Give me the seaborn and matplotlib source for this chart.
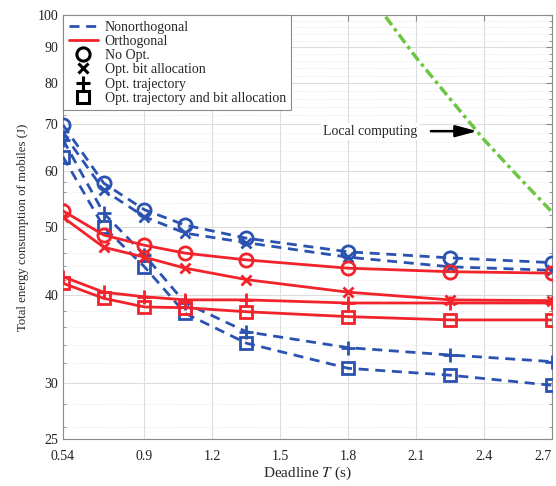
import numpy as np
import pandas as pd
import matplotlib
matplotlib.use("Agg")
import matplotlib.pyplot as plt
from matplotlib.lines import Line2D
from matplotlib.ticker import FixedLocator, FixedFormatter, NullFormatter
import seaborn as sns

# ---------------- data ----------------
deadline = [0.54, 0.72, 0.90, 1.08, 1.35, 1.80, 2.25, 2.70]

# Nonorthogonal (blue, dashed)
non_no_opt   = [69.8, 57.7, 52.9, 50.3, 48.2, 46.1, 45.2, 44.5]
non_bit      = [68.0, 56.4, 51.7, 49.0, 47.5, 45.3, 43.9, 43.4]
non_traj     = [66.5, 52.3, 45.6, 39.0, 35.5, 33.7, 32.9, 32.2]
non_traj_bit = [62.9, 50.0, 43.9, 37.7, 34.2, 31.5, 30.8, 29.8]

# Orthogonal (red, solid)
orth_no_opt   = [52.7, 48.7, 47.1, 45.9, 44.9, 43.7, 43.2, 43.0]
orth_bit      = [51.6, 46.8, 45.3, 43.7, 42.1, 40.4, 39.4, 39.3]
orth_traj     = [42.5, 40.4, 39.8, 39.4, 39.4, 39.0, 39.0, 39.0]
orth_traj_bit = [41.6, 39.6, 38.5, 38.4, 37.9, 37.3, 36.9, 36.9]

# Local computing (green)
local_T      = [1.90, 2.10, 2.25, 2.40, 2.55, 2.70]
local_energy = [106.0, 87.0, 76.0, 66.5, 59.0, 52.5]

x_ticks = [0.54, 0.9, 1.2, 1.5, 1.8, 2.1, 2.4, 2.7]
x_tick_labels = ["0.54", "0.9", "1.2", "1.5", "1.8", "2.1", "2.4", "2.7"]
y_ticks = [25, 30, 40, 50, 60, 70, 80, 90, 100]
y_tick_labels = ["25", "30", "40", "50", "60", "70", "80", "90", "100"]

legend_labels = ["Nonorthogonal", "Orthogonal", "No Opt.", "Opt. bit allocation",
                 "Opt. trajectory", "Opt. trajectory and bit allocation"]

# ---------------- style ----------------
sns.set_style("white")
plt.rcParams["font.family"] = ["Liberation Serif", "DejaVu Serif"]
plt.rcParams["mathtext.fontset"] = "stix"

BLUE = "#2A52B0"
RED = "#F2232A"
GREEN = "#6CC644"
DASH = (0, (3.6, 2.4))

fig = plt.figure(figsize=(5.56, 4.86), dpi=100)
ax = fig.add_axes([63 / 556, 1 - 439 / 486, (552 - 63) / 556, (439 - 15) / 486])

markers = ["o", "x", "+", "s"]
msizes = [9.5, 7, 10.5, 8.5]
non_series = [non_no_opt, non_bit, non_traj, non_traj_bit]
orth_series = [orth_no_opt, orth_bit, orth_traj, orth_traj_bit]

for vals, m, ms in zip(non_series, markers, msizes):
    sns.lineplot(x=deadline, y=vals, ax=ax, color=BLUE, lw=2.0,
                 linestyle=DASH, marker=m, markersize=ms,
                 markerfacecolor="none", markeredgecolor=BLUE,
                 markeredgewidth=2.0, zorder=3)
for vals, m, ms in zip(orth_series, markers, msizes):
    sns.lineplot(x=deadline, y=vals, ax=ax, color=RED, lw=2.0,
                 linestyle="-", marker=m, markersize=ms,
                 markerfacecolor="none", markeredgecolor=RED,
                 markeredgewidth=2.0, zorder=3)

sns.lineplot(x=local_T, y=local_energy, ax=ax, color=GREEN, lw=2.5,
             linestyle=(0, (3.0, 1.2, 1.0, 1.2)), zorder=3)

# axes
ax.set_yscale("log")
ax.set_xlim(0.54, 2.7)
ax.set_ylim(25, 100)
ax.xaxis.set_major_locator(FixedLocator(x_ticks))
ax.xaxis.set_major_formatter(FixedFormatter(x_tick_labels))
ax.yaxis.set_major_locator(FixedLocator(y_ticks))
ax.yaxis.set_major_formatter(FixedFormatter(y_tick_labels))
minor_y = [v for v in range(26, 100, 2) if v not in y_ticks]
ax.yaxis.set_minor_locator(FixedLocator(minor_y))
ax.yaxis.set_minor_formatter(NullFormatter())

ax.grid(True, which="major", color="#DDDDDD", lw=0.8, ls="-")
ax.grid(True, which="minor", axis="y", color="#E4E4E4", lw=0.6, ls=(0, (1, 1.5)))
ax.set_axisbelow(True)

for sp in ax.spines.values():
    sp.set_color("#8A8A8A")
    sp.set_linewidth(0.8)
ax.tick_params(axis="both", which="major", direction="in", length=4,
               color="#8A8A8A", labelsize=10, labelcolor="#222222",
               top=True, right=True)
ax.tick_params(axis="y", which="minor", direction="in", length=2,
               color="#8A8A8A", right=True, left=True)
ax.tick_params(axis="x", which="major", pad=8)

fig.canvas.draw()
xt = ax.get_xticklabels()
xt[-1].set_horizontalalignment("right")

ax.set_xlabel("Deadline $\\mathit{T}$ (s)", fontsize=11, labelpad=1)
ax.set_ylabel("Total energy consumption of mobiles (J)", fontsize=9.2, labelpad=6)

# annotation for local computing
ax.text(2.106, 68.4, "Local computing", ha="right", va="center", fontsize=10,
        bbox=dict(facecolor="white", edgecolor="none", pad=1.5), zorder=4)
ax.annotate("", xy=(2.37, 68.4), xytext=(2.165, 68.4),
            arrowprops=dict(arrowstyle="-|>,head_length=1.3,head_width=0.35",
                            color="black", lw=1.8, shrinkA=0, shrinkB=0),
            zorder=5)

# legend
handles = [
    Line2D([], [], color=BLUE, lw=2.0, linestyle=DASH),
    Line2D([], [], color=RED, lw=2.0, linestyle="-"),
    Line2D([], [], color="black", lw=0, marker="o", markersize=9.5,
           markerfacecolor="none", markeredgewidth=2.2),
    Line2D([], [], color="black", lw=0, marker="x", markersize=7,
           markeredgewidth=2.2),
    Line2D([], [], color="black", lw=0, marker="+", markersize=10.5,
           markeredgewidth=2.2),
    Line2D([], [], color="black", lw=0, marker="s", markersize=8.5,
           markerfacecolor="none", markeredgewidth=2.2),
]
leg = ax.legend(handles, legend_labels, loc="upper left", fontsize=10,
                frameon=True, fancybox=False, borderaxespad=0,
                handlelength=2.1, handletextpad=0.5, labelspacing=0.09,
                borderpad=0.4)
leg.get_frame().set_edgecolor("#8A8A8A")
leg.get_frame().set_linewidth(0.8)
leg.get_frame().set_alpha(1.0)

fig.savefig("out.png", dpi=100)
